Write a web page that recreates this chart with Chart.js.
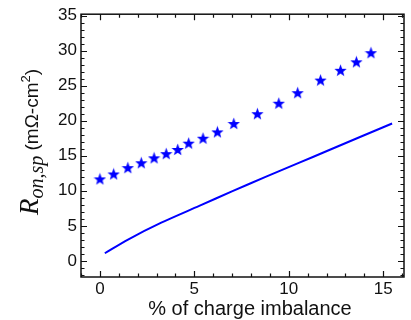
<!DOCTYPE html>
<html>
<head>
<meta charset="utf-8">
<script src="https://cdn.jsdelivr.net/npm/chart.js@4"></script>
<style>
html,body{margin:0;padding:0;background:#fff;}
#wrap{width:411px;height:320px;}
</style>
</head>
<body>
<div id="wrap"><canvas id="c" width="411" height="320"></canvas></div>
<script>
// ---- data ----
const starX = [0, 0.73, 1.48, 2.19, 2.87, 3.51, 4.12, 4.70, 5.46, 6.22, 7.09, 8.34, 9.47, 10.47, 11.68, 12.74, 13.58, 14.35];
const starY = [11.7, 12.4, 13.3, 14.0, 14.7, 15.3, 15.9, 16.8, 17.5, 18.4, 19.6, 21.0, 22.5, 24.0, 25.8, 27.2, 28.4, 29.7];
const lineX = [0.26, 1.49, 3.25, 5.26, 7.02, 8.77, 10.53, 12.02, 13.77, 15.47];
const lineY = [1.09, 3.05, 5.45, 7.85, 9.95, 11.98, 13.98, 15.68, 17.68, 19.6];
const xTicks = [0, 5, 10, 15];
const yTicks = [0, 5, 10, 15, 20, 25, 30, 35];
const xTitle = '% of charge imbalance';
const yTitleParts = ['R', 'on,sp', ' (mΩ-cm', '2', ')'];

const BLUE = '#0000ff';
const INK = '#111111';

// filled five-point star marker
function makeStar(size, color) {
  const c = document.createElement('canvas');
  c.width = size; c.height = size;
  const g = c.getContext('2d');
  const cx = size / 2, cy = size / 2 + 0.6, R = size / 2, r = R * 0.42;
  g.beginPath();
  for (let i = 0; i < 10; i++) {
    const rad = i % 2 === 0 ? R : r;
    const a = -Math.PI / 2 + i * Math.PI / 5;
    const px = cx + rad * Math.cos(a), py = cy + rad * Math.sin(a);
    if (i === 0) g.moveTo(px, py); else g.lineTo(px, py);
  }
  g.closePath();
  g.fillStyle = color;
  g.fill();
  return c;
}
const starImg = makeStar(13, BLUE);

const framePlugin = {
  id: 'frame',
  afterDatasetsDraw(chart) {
    const ctx = chart.ctx;
    const a = chart.chartArea;
    const xs = chart.scales.x, ys = chart.scales.y;
    ctx.save();
    ctx.strokeStyle = INK;
    ctx.lineWidth = 1.5;
    ctx.strokeRect(a.left, a.top, a.right - a.left, a.bottom - a.top);
    ctx.lineWidth = 1.2;
    ctx.beginPath();
    for (let v = Math.ceil(xs.min); v <= xs.max; v++) {
      const p = Math.round(xs.getPixelForValue(v)) + 0.5;
      const len = v % 5 === 0 ? 6 : 3.5;
      ctx.moveTo(p, a.bottom); ctx.lineTo(p, a.bottom - len);
      ctx.moveTo(p, a.top); ctx.lineTo(p, a.top + len);
    }
    for (let v = Math.ceil(ys.min); v <= ys.max; v++) {
      const p = Math.round(ys.getPixelForValue(v)) + 0.5;
      const len = v % 5 === 0 ? 6 : 3.5;
      ctx.moveTo(a.left, p); ctx.lineTo(a.left + len, p);
      ctx.moveTo(a.right, p); ctx.lineTo(a.right - len, p);
    }
    ctx.stroke();

    // x title
    ctx.fillStyle = INK;
    ctx.font = '20px "Liberation Sans", Arial, sans-serif';
    ctx.textAlign = 'center';
    ctx.textBaseline = 'alphabetic';
    ctx.fillText(xTitle, 250, 315);

    // y title (rotated, rich text)
    const fonts = [
      'italic 27px "Liberation Serif", "Times New Roman", serif',
      'italic 20px "Liberation Serif", "Times New Roman", serif',
      '19px "Liberation Sans", Arial, sans-serif',
      '13px "Liberation Sans", Arial, sans-serif',
      '19px "Liberation Sans", Arial, sans-serif'
    ];
    const shifts = [0, 5, 0, -8, 0];
    let total = 0;
    const widths = yTitleParts.map((t, i) => { ctx.font = fonts[i]; const w = ctx.measureText(t).width; total += w; return w; });
    ctx.translate(38, 142);
    ctx.rotate(-Math.PI / 2);
    ctx.textAlign = 'left';
    let x = -total / 2;
    yTitleParts.forEach((t, i) => {
      ctx.font = fonts[i];
      ctx.fillText(t, x, shifts[i]);
      x += widths[i];
    });
    ctx.restore();
  }
};

new Chart(document.getElementById('c'), {
  data: {
    datasets: [
      {
        type: 'scatter',
        data: starX.map((x, i) => ({ x: x, y: starY[i] })),
        pointStyle: starImg,
        pointRadius: 6,
        backgroundColor: BLUE,
        borderColor: BLUE
      },
      {
        type: 'line',
        data: lineX.map((x, i) => ({ x: x, y: lineY[i] })),
        borderColor: BLUE,
        borderWidth: 2,
        pointRadius: 0,
        tension: 0.3,
        fill: false
      }
    ]
  },
  options: {
    responsive: false,
    animation: false,
    events: [],
    layout: { padding: { left: 0, top: 12, right: 5, bottom: 0 } },
    plugins: { legend: { display: false }, tooltip: { enabled: false } },
    scales: {
      x: {
        type: 'linear',
        min: -1, max: 16.1,
        grid: { display: false, drawTicks: false },
        border: { display: false },
        afterBuildTicks: s => { s.ticks = xTicks.map(v => ({ value: v })); },
        afterFit: s => { s.height = 43; },
        ticks: { padding: 2, color: INK, font: { family: '"Liberation Sans", Arial, sans-serif', size: 17 } }
      },
      y: {
        type: 'linear',
        min: -2.3, max: 35.2,
        grid: { display: false, drawTicks: false },
        border: { display: false },
        afterBuildTicks: s => { s.ticks = yTicks.map(v => ({ value: v })); },
        afterFit: s => { s.width = 81; },
        ticks: { padding: 4, color: INK, font: { family: '"Liberation Sans", Arial, sans-serif', size: 17 } }
      }
    }
  },
  plugins: [framePlugin]
});
</script>
</body>
</html>
